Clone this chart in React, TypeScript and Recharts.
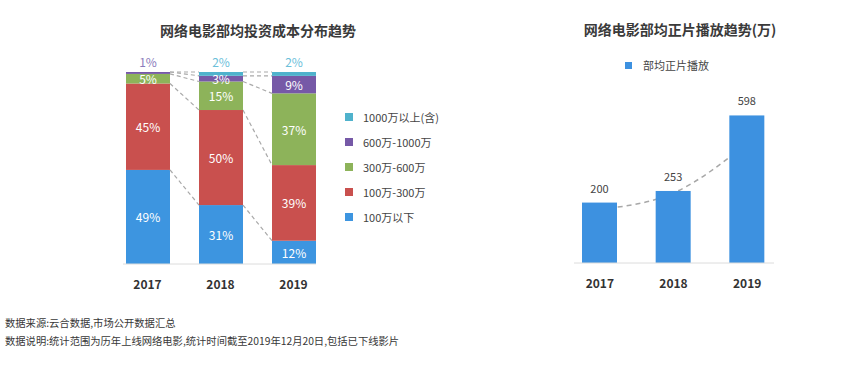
import React from 'react';
import { BarChart, Bar, XAxis, YAxis, LabelList, Legend, ComposedChart, Line } from 'recharts';

// ---------- data ----------
const years = ['2017', '2018', '2019'];
const costNames = ['100万以下', '100万-300万', '300万-600万', '600万-1000万', '1000万以上(含)'];
const under100 = [49, 31, 12];
const from100to300 = [45, 50, 39];
const from300to600 = [5, 15, 37];
const from600to1000 = [1, 3, 9];
const over1000 = [0, 2, 2];

const playName = '部均正片播放';
const playValues = [200, 253, 598];
const playTrend = [170, 244, 470];

const leftTitle = '网络电影部均投资成本分布趋势';
const rightTitle = '网络电影部均正片播放趋势(万)';
const footer1 = '数据来源:云合数据,市场公开数据汇总';
const footer2 = '数据说明:统计范围为历年上线网络电影,统计时间截至2019年12月20日,包括已下线影片';

// ---------- styling ----------
const FONT = '"Noto Sans CJK SC", "Noto Sans", sans-serif';
const seriesKeys = ['s0', 's1', 's2', 's3', 's4'];
const seriesValues = [under100, from100to300, from300to600, from600to1000, over1000];
const seriesColors = ['#3d95e0', '#c9504e', '#8db35a', '#7659a7', '#4fb2cc'];
const smallLabelColors = ['#3d95e0', '#c9504e', '#8db35a', '#8a7bbb', '#6cc0da'];
const BLUE = '#3d91e0';

const costData = years.map((y, i) => {
  const row: any = { year: y };
  seriesKeys.forEach((k, s) => (row[k] = seriesValues[s][i]));
  return row;
});
const playData = years.map((y, i) => ({ year: y, play: playValues[i], trend: playTrend[i] }));

const L_W = 432;
const L_H = 300;
const L_MARGIN = { top: 72, right: 102, bottom: 6, left: 111 };
const L_BAND = (L_W - L_MARGIN.left - L_MARGIN.right) / years.length;

const R_W = 424;
const R_H = 300;
const R_MARGIN = { top: 115, right: 80, bottom: 7, left: 123 };
const R_XAXIS_H = 30;
const R_DOMAIN = [-76, 600];

const totals = years.map((_, i) => seriesValues.reduce((a, arr) => a + arr[i], 0));
const cumFrac = (i: number, s: number) => {
  let c = 0;
  for (let k = 0; k <= s; k++) c += seriesValues[k][i];
  return c / totals[i];
};

const makeShape = (s: number) => (props: any) => {
  const { x, y, width, height, index } = props;
  const fill = seriesColors[s];
  const parts: any[] = [];
  if (height > 0) {
    parts.push(<rect key="r" x={x} y={y} width={width} height={height} fill={fill} />);
  }
  if (s === 0 && index < years.length - 1 && height > 0) {
    const frac = seriesValues[0][index] / totals[index];
    const fullH = height / frac;
    const base = y + height;
    const x1 = x + width;
    const x2 = x + L_BAND;
    for (let k = 0; k < seriesKeys.length; k++) {
      const y1 = base - cumFrac(index, k) * fullH;
      const y2 = base - cumFrac(index + 1, k) * fullH;
      parts.push(
        <line key={'c' + k} x1={x1} y1={y1} x2={x2} y2={y2} stroke="#a9a9a9" strokeWidth={1.2} strokeDasharray="4 3" />
      );
    }
  }
  return <g>{parts}</g>;
};

const makeLabel = (s: number) => (props: any) => {
  const { x, y, width, height, index } = props;
  const v = seriesValues[s][index];
  if (!v) return null;
  const cx = x + width / 2;
  if (v <= 2) {
    return (
      <text x={cx} y={y - 5} textAnchor="middle" fontSize={12} fill={smallLabelColors[s]} fontFamily={FONT}>
        {v + '%'}
      </text>
    );
  }
  return (
    <text x={cx} y={y + height / 2} textAnchor="middle" dominantBaseline="central" fontSize={12} fill="#ffffff" fontFamily={FONT}>
      {v + '%'}
    </text>
  );
};

// bars of the right chart rise from the bottom of the plot area (axis origin below zero)
const PlayBarShape = (props: any) => {
  const { x, y, width, height, background, fill } = props;
  const bottom = background && background.height ? background.y + background.height : y + height;
  return <rect x={x} y={y} width={width} height={Math.max(0, bottom - y)} fill={fill} />;
};

const LeftLegend = () => (
  <div style={{ fontFamily: FONT, whiteSpace: 'nowrap' }}>
    {costNames
      .map((n, s) => ({ n, s }))
      .reverse()
      .map(({ n, s }) => (
        <div key={n} style={{ display: 'flex', alignItems: 'center', height: 25.2 }}>
          <span style={{ width: 8, height: 8, background: seriesColors[s], marginRight: 10, display: 'inline-block', flex: 'none' }} />
          <span style={{ fontSize: 11, color: '#444', lineHeight: '14px' }}>{n}</span>
        </div>
      ))}
  </div>
);

const RightLegend = () => (
  <div style={{ display: 'flex', alignItems: 'center', fontFamily: FONT, whiteSpace: 'nowrap' }}>
    <span style={{ width: 7, height: 7, background: BLUE, marginRight: 11, display: 'inline-block', flex: 'none' }} />
    <span style={{ fontSize: 11, color: '#444', lineHeight: '14px' }}>{playName}</span>
  </div>
);

const tickStyle = { fill: '#333', fontSize: 12, fontWeight: 700, fontFamily: FONT };

export default function App() {
  return (
    <div
      style={{
        position: 'absolute',
        left: 0,
        top: 0,
        width: 864,
        height: 370,
        background: '#fff',
        fontFamily: FONT,
        overflow: 'hidden',
      }}
    >
      <div style={{ position: 'absolute', left: 0, top: 0 }}>
        <BarChart width={L_W} height={L_H} data={costData} margin={L_MARGIN} stackOffset="expand">
          <XAxis
            dataKey="year"
            tickLine={false}
            axisLine={{ stroke: '#dcdcdc', strokeDasharray: '0 12 193 1000' }}
            tick={tickStyle}
            tickMargin={10}
            interval={0}
          />
          <YAxis hide />
          <Legend
            content={() => <LeftLegend />}
            layout="horizontal"
            verticalAlign="middle"
            wrapperStyle={{ left: 345, top: 104, width: 'auto', bottom: 'auto' }}
          />
          {seriesKeys.map((k, s) => (
            <Bar
              key={k}
              dataKey={k}
              stackId="a"
              name={costNames[s]}
              fill={seriesColors[s]}
              barSize={44}
              isAnimationActive={false}
              shape={makeShape(s)}
            >
              <LabelList dataKey={k} content={makeLabel(s)} />
            </Bar>
          ))}
        </BarChart>
      </div>

      {/* trend curve layer (behind the bars) */}
      <div style={{ position: 'absolute', left: 440, top: 0 }}>
        <ComposedChart
          width={R_W}
          height={R_H}
          data={playData}
          margin={{ ...R_MARGIN, bottom: R_MARGIN.bottom + R_XAXIS_H }}
        >
          <XAxis dataKey="year" hide />
          <YAxis hide domain={R_DOMAIN} allowDataOverflow />
          <Bar dataKey="play" fill="none" barSize={35} isAnimationActive={false} />
          <Line
            dataKey="trend"
            type="monotone"
            stroke="#a8a8a8"
            strokeWidth={1.5}
            strokeDasharray="5 4"
            dot={false}
            activeDot={false}
            isAnimationActive={false}
          />
        </ComposedChart>
      </div>

      <div style={{ position: 'absolute', left: 440, top: 0 }}>
        <ComposedChart width={R_W} height={R_H} data={playData} margin={R_MARGIN}>
          <XAxis
            dataKey="year"
            height={R_XAXIS_H}
            tickLine={false}
            axisLine={{ stroke: '#dcdcdc', strokeDasharray: '0 11 200 1000' }}
            tick={tickStyle}
            tickMargin={10}
            interval={0}
          />
          <YAxis hide domain={R_DOMAIN} allowDataOverflow />
          <Legend
            content={() => <RightLegend />}
            layout="horizontal"
            verticalAlign="middle"
            wrapperStyle={{ left: 185, top: 58, width: 'auto', bottom: 'auto' }}
          />
          <Bar dataKey="play" name={playName} fill={BLUE} barSize={35} isAnimationActive={false} shape={PlayBarShape}>
            <LabelList dataKey="play" position="top" offset={10} fill="#444" fontSize={11} fontFamily={FONT} />
          </Bar>
        </ComposedChart>
      </div>

      <div
        style={{
          position: 'absolute',
          left: 158,
          top: 20,
          width: 200,
          textAlign: 'center',
          fontSize: 14,
          fontWeight: 700,
          color: '#3a3a3a',
          lineHeight: '20px',
        }}
      >
        {leftTitle}
      </div>
      <div
        style={{
          position: 'absolute',
          left: 570,
          top: 19,
          width: 220,
          textAlign: 'center',
          fontSize: 14,
          fontWeight: 700,
          color: '#3a3a3a',
          lineHeight: '20px',
        }}
      >
        {rightTitle}
      </div>
      <div style={{ position: 'absolute', left: 5, top: 316, fontSize: 10.3, color: '#383838', lineHeight: '14px', whiteSpace: 'nowrap' }}>
        {footer1}
      </div>
      <div style={{ position: 'absolute', left: 5, top: 334, fontSize: 10.3, color: '#383838', lineHeight: '14px', whiteSpace: 'nowrap' }}>
        {footer2}
      </div>
    </div>
  );
}
